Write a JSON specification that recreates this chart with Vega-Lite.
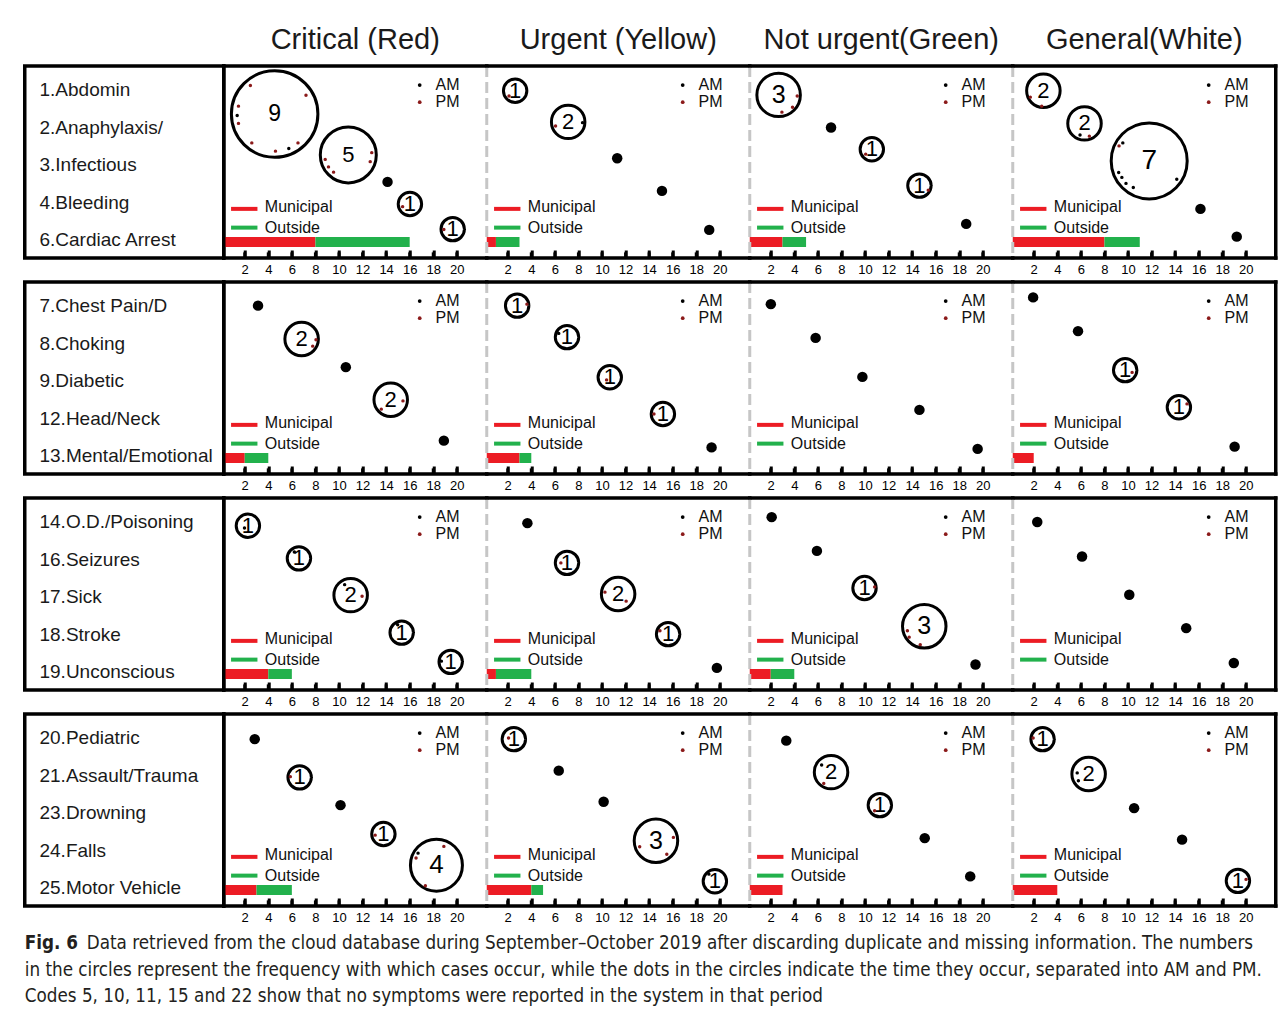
{
"$schema":"https://vega.github.io/schema/vega-lite/v6.json",
"background":"white",
"padding":{"left":22.75,"top":2,"right":0,"bottom":0},
"config":{"view":{"stroke":null},"font":"Liberation Sans","axisY":{"disable":true},
"axisX":{"domain":false,"grid":false,"ticks":true,"tickSize":-8,"tickWidth":3,"tickColor":"black","tickOpacity":1,"tickCount":20,"labelFontSize":13,"labelFont":"Liberation Sans","labelColor":"black","labelPadding":13,"labelFlush":false,"labelOverlap":false,"labelSeparation":-40,"labelBound":false,"titleOpacity":0,"titleFontSize":1,"titlePadding":0}},
"datasets":{
"hdr":[{"h":"Critical (Red)"},{"h":"Urgent (Yellow)"},{"h":"Not urgent(Green)"},{"h":"General(White)"}],
"lab":[{"g":1,"i":1,"s":"1.Abdomin"},{"g":1,"i":2,"s":"2.Anaphylaxis/"},{"g":1,"i":3,"s":"3.Infectious"},{"g":1,"i":4,"s":"4.Bleeding"},{"g":1,"i":5,"s":"6.Cardiac Arrest"},
{"g":2,"i":1,"s":"7.Chest Pain/D"},{"g":2,"i":2,"s":"8.Choking"},{"g":2,"i":3,"s":"9.Diabetic"},{"g":2,"i":4,"s":"12.Head/Neck"},{"g":2,"i":5,"s":"13.Mental/Emotional"},
{"g":3,"i":1,"s":"14.O.D./Poisoning"},{"g":3,"i":2,"s":"16.Seizures"},{"g":3,"i":3,"s":"17.Sick"},{"g":3,"i":4,"s":"18.Stroke"},{"g":3,"i":5,"s":"19.Unconscious"},
{"g":4,"i":1,"s":"20.Pediatric"},{"g":4,"i":2,"s":"21.Assault/Trauma"},{"g":4,"i":3,"s":"23.Drowning"},{"g":4,"i":4,"s":"24.Falls"},{"g":4,"i":5,"s":"25.Motor Vehicle"}],
"cap":[{"ln":1,"s":"Data retrieved from the cloud database during September–October 2019 after discarding duplicate and missing information. The numbers"},
{"ln":2,"s":"in the circles represent the frequency with which cases occur, while the dots in the circles indicate the time they occur, separated into AM and PM."},
{"ln":3,"s":"Codes 5, 10, 11, 15 and 22 show that no symptoms were reported in the system in that period"}],
"d":[
{"l":"C","t":"k","x":2},{"l":"C","t":"k","x":4},{"l":"C","t":"k","x":6},{"l":"C","t":"k","x":8},{"l":"C","t":"k","x":10},{"l":"C","t":"k","x":12},{"l":"C","t":"k","x":14},{"l":"C","t":"k","x":16},{"l":"C","t":"k","x":18},{"l":"C","t":"k","x":20},
{"l":"U","t":"k","x":2},{"l":"U","t":"k","x":4},{"l":"U","t":"k","x":6},{"l":"U","t":"k","x":8},{"l":"U","t":"k","x":10},{"l":"U","t":"k","x":12},{"l":"U","t":"k","x":14},{"l":"U","t":"k","x":16},{"l":"U","t":"k","x":18},{"l":"U","t":"k","x":20},
{"l":"N","t":"k","x":2},{"l":"N","t":"k","x":4},{"l":"N","t":"k","x":6},{"l":"N","t":"k","x":8},{"l":"N","t":"k","x":10},{"l":"N","t":"k","x":12},{"l":"N","t":"k","x":14},{"l":"N","t":"k","x":16},{"l":"N","t":"k","x":18},{"l":"N","t":"k","x":20},
{"l":"G","t":"k","x":2},{"l":"G","t":"k","x":4},{"l":"G","t":"k","x":6},{"l":"G","t":"k","x":8},{"l":"G","t":"k","x":10},{"l":"G","t":"k","x":12},{"l":"G","t":"k","x":14},{"l":"G","t":"k","x":16},{"l":"G","t":"k","x":18},{"l":"G","t":"k","x":20},
{"g":1,"l":"C","t":"f"},
{"g":1,"l":"C","t":"c","x":4.54,"y":1.64,"n":9},
{"g":1,"l":"C","t":"c","x":10.79,"y":2.73,"n":5},
{"g":1,"l":"C","t":"c","x":16.02,"y":4.04,"n":1},
{"g":1,"l":"C","t":"c","x":19.65,"y":4.71,"n":1},
{"g":1,"l":"C","t":"z","x":14.12,"y":3.45},
{"g":1,"l":"C","t":"d","k":"PM","x":2.48,"y":0.88},
{"g":1,"l":"C","t":"d","k":"PM","x":7.2,"y":1.14},
{"g":1,"l":"C","t":"d","k":"PM","x":1.47,"y":1.43},
{"g":1,"l":"C","t":"d","k":"AM","x":1.36,"y":1.68},
{"g":1,"l":"C","t":"d","k":"PM","x":1.47,"y":1.89},
{"g":1,"l":"C","t":"d","k":"PM","x":2.6,"y":2.41},
{"g":1,"l":"C","t":"d","k":"PM","x":4.61,"y":2.63},
{"g":1,"l":"C","t":"d","k":"AM","x":5.74,"y":2.56},
{"g":1,"l":"C","t":"d","k":"PM","x":6.52,"y":2.41},
{"g":1,"l":"C","t":"d","k":"PM","x":8.83,"y":2.85},
{"g":1,"l":"C","t":"d","k":"PM","x":9.11,"y":3.05},
{"g":1,"l":"C","t":"d","k":"PM","x":9.54,"y":3.19},
{"g":1,"l":"C","t":"d","k":"PM","x":12.78,"y":2.67},
{"g":1,"l":"C","t":"d","k":"PM","x":12.65,"y":2.91},
{"g":1,"l":"C","t":"d","k":"PM","x":15.4,"y":4.11},
{"g":1,"l":"C","t":"d","k":"PM","x":18.9,"y":4.72},
{"g":1,"l":"C","t":"b","k":"Municipal","v":8},
{"g":1,"l":"C","t":"b","k":"Outside","v":8},
{"g":1,"l":"U","t":"f"},
{"g":1,"l":"U","t":"c","x":2.63,"y":1.02,"n":1},
{"g":1,"l":"U","t":"c","x":7.13,"y":1.85,"n":2},
{"g":1,"l":"U","t":"z","x":11.29,"y":2.82},
{"g":1,"l":"U","t":"z","x":15.09,"y":3.69},
{"g":1,"l":"U","t":"z","x":19.1,"y":4.73},
{"g":1,"l":"U","t":"d","k":"PM","x":2.11,"y":1.16},
{"g":1,"l":"U","t":"d","k":"PM","x":6.06,"y":1.96},
{"g":1,"l":"U","t":"d","k":"AM","x":8.35,"y":1.87},
{"g":1,"l":"U","t":"b","k":"Municipal","v":1},
{"g":1,"l":"U","t":"b","k":"Outside","v":2},
{"g":1,"l":"N","t":"f"},
{"g":1,"l":"N","t":"c","x":2.67,"y":1.13,"n":3},
{"g":1,"l":"N","t":"c","x":10.58,"y":2.58,"n":1},
{"g":1,"l":"N","t":"c","x":14.62,"y":3.55,"n":1},
{"g":1,"l":"N","t":"z","x":7.12,"y":2.0},
{"g":1,"l":"N","t":"z","x":18.59,"y":4.57},
{"g":1,"l":"N","t":"d","k":"PM","x":4.25,"y":1.16},
{"g":1,"l":"N","t":"d","k":"PM","x":3.85,"y":1.46},
{"g":1,"l":"N","t":"d","k":"PM","x":2.95,"y":1.59},
{"g":1,"l":"N","t":"d","k":"PM","x":10.06,"y":2.71},
{"g":1,"l":"N","t":"d","k":"PM","x":15.37,"y":3.67},
{"g":1,"l":"N","t":"b","k":"Municipal","v":3},
{"g":1,"l":"N","t":"b","k":"Outside","v":2},
{"g":1,"l":"G","t":"f"},
{"g":1,"l":"G","t":"c","x":2.82,"y":1.02,"n":2},
{"g":1,"l":"G","t":"c","x":6.31,"y":1.89,"n":2},
{"g":1,"l":"G","t":"c","x":11.8,"y":2.89,"n":7},
{"g":1,"l":"G","t":"z","x":16.15,"y":4.17},
{"g":1,"l":"G","t":"z","x":19.23,"y":4.91},
{"g":1,"l":"G","t":"d","k":"PM","x":1.71,"y":1.19},
{"g":1,"l":"G","t":"d","k":"PM","x":2.68,"y":1.43},
{"g":1,"l":"G","t":"d","k":"AM","x":5.93,"y":2.2},
{"g":1,"l":"G","t":"d","k":"PM","x":6.72,"y":2.23},
{"g":1,"l":"G","t":"d","k":"PM","x":9.24,"y":2.49},
{"g":1,"l":"G","t":"d","k":"AM","x":9.56,"y":2.41},
{"g":1,"l":"G","t":"d","k":"AM","x":9.21,"y":3.2},
{"g":1,"l":"G","t":"d","k":"AM","x":9.48,"y":3.33},
{"g":1,"l":"G","t":"d","k":"AM","x":9.83,"y":3.49},
{"g":1,"l":"G","t":"d","k":"AM","x":10.45,"y":3.6},
{"g":1,"l":"G","t":"d","k":"AM","x":14.14,"y":3.38},
{"g":1,"l":"G","t":"b","k":"Municipal","v":8},
{"g":1,"l":"G","t":"b","k":"Outside","v":3},
{"g":2,"l":"C","t":"f"},
{"g":2,"l":"C","t":"z","x":3.13,"y":0.99},
{"g":2,"l":"C","t":"z","x":10.58,"y":2.63},
{"g":2,"l":"C","t":"z","x":18.9,"y":4.59},
{"g":2,"l":"C","t":"c","x":6.83,"y":1.88,"n":2},
{"g":2,"l":"C","t":"c","x":14.39,"y":3.5,"n":2},
{"g":2,"l":"C","t":"d","k":"PM","x":8.05,"y":1.9},
{"g":2,"l":"C","t":"d","k":"PM","x":7.77,"y":2.07},
{"g":2,"l":"C","t":"d","k":"PM","x":13.59,"y":3.75},
{"g":2,"l":"C","t":"d","k":"PM","x":15.43,"y":3.53},
{"g":2,"l":"C","t":"b","k":"Municipal","v":2},
{"g":2,"l":"C","t":"b","k":"Outside","v":2},
{"g":2,"l":"U","t":"f"},
{"g":2,"l":"U","t":"c","x":2.8,"y":0.99,"n":1},
{"g":2,"l":"U","t":"c","x":7.03,"y":1.83,"n":1},
{"g":2,"l":"U","t":"c","x":10.66,"y":2.9,"n":1},
{"g":2,"l":"U","t":"c","x":15.17,"y":3.88,"n":1},
{"g":2,"l":"U","t":"z","x":19.3,"y":4.77},
{"g":2,"l":"U","t":"d","k":"PM","x":3.63,"y":0.95},
{"g":2,"l":"U","t":"d","k":"AM","x":6.33,"y":1.73},
{"g":2,"l":"U","t":"d","k":"PM","x":10.39,"y":2.97},
{"g":2,"l":"U","t":"d","k":"PM","x":14.41,"y":3.88},
{"g":2,"l":"U","t":"b","k":"Municipal","v":3},
{"g":2,"l":"U","t":"b","k":"Outside","v":1},
{"g":2,"l":"N","t":"f"},
{"g":2,"l":"N","t":"z","x":2.01,"y":0.95},
{"g":2,"l":"N","t":"z","x":5.81,"y":1.85},
{"g":2,"l":"N","t":"z","x":9.78,"y":2.89},
{"g":2,"l":"N","t":"z","x":14.62,"y":3.77},
{"g":2,"l":"N","t":"z","x":19.56,"y":4.81},
{"g":2,"l":"G","t":"f"},
{"g":2,"l":"G","t":"z","x":1.95,"y":0.77},
{"g":2,"l":"G","t":"z","x":5.76,"y":1.67},
{"g":2,"l":"G","t":"z","x":19.05,"y":4.75},
{"g":2,"l":"G","t":"c","x":9.76,"y":2.71,"n":1},
{"g":2,"l":"G","t":"c","x":14.32,"y":3.7,"n":1},
{"g":2,"l":"G","t":"d","k":"PM","x":10.35,"y":2.77},
{"g":2,"l":"G","t":"d","k":"PM","x":15.01,"y":3.61},
{"g":2,"l":"G","t":"b","k":"Municipal","v":2},
{"g":3,"l":"C","t":"f"},
{"g":3,"l":"C","t":"c","x":2.27,"y":1.1,"n":1},
{"g":3,"l":"C","t":"c","x":6.6,"y":1.97,"n":1},
{"g":3,"l":"C","t":"c","x":10.99,"y":2.95,"n":2},
{"g":3,"l":"C","t":"c","x":15.32,"y":3.95,"n":1},
{"g":3,"l":"C","t":"c","x":19.48,"y":4.73,"n":1},
{"g":3,"l":"C","t":"d","k":"AM","x":1.98,"y":1.16},
{"g":3,"l":"C","t":"d","k":"AM","x":6.21,"y":1.8},
{"g":3,"l":"C","t":"d","k":"AM","x":10.48,"y":2.67},
{"g":3,"l":"C","t":"d","k":"PM","x":11.96,"y":2.98},
{"g":3,"l":"C","t":"d","k":"AM","x":14.98,"y":3.74},
{"g":3,"l":"C","t":"d","k":"AM","x":18.69,"y":4.71},
{"g":3,"l":"C","t":"b","k":"Municipal","v":4},
{"g":3,"l":"C","t":"b","k":"Outside","v":2},
{"g":3,"l":"U","t":"f"},
{"g":3,"l":"U","t":"z","x":3.67,"y":1.03},
{"g":3,"l":"U","t":"z","x":19.75,"y":4.89},
{"g":3,"l":"U","t":"c","x":7.03,"y":2.09,"n":1},
{"g":3,"l":"U","t":"c","x":11.37,"y":2.92,"n":2},
{"g":3,"l":"U","t":"c","x":15.61,"y":3.99,"n":1},
{"g":3,"l":"U","t":"d","k":"PM","x":6.51,"y":2.09},
{"g":3,"l":"U","t":"d","k":"PM","x":10.25,"y":2.87},
{"g":3,"l":"U","t":"d","k":"PM","x":12.05,"y":3.11},
{"g":3,"l":"U","t":"d","k":"PM","x":14.92,"y":3.9},
{"g":3,"l":"U","t":"b","k":"Municipal","v":1},
{"g":3,"l":"U","t":"b","k":"Outside","v":3},
{"g":3,"l":"N","t":"f"},
{"g":3,"l":"N","t":"z","x":2.08,"y":0.87},
{"g":3,"l":"N","t":"z","x":5.92,"y":1.77},
{"g":3,"l":"N","t":"z","x":19.38,"y":4.8},
{"g":3,"l":"N","t":"c","x":9.96,"y":2.76,"n":1},
{"g":3,"l":"N","t":"c","x":15.03,"y":3.78,"n":3},
{"g":3,"l":"N","t":"d","k":"PM","x":10.82,"y":2.73},
{"g":3,"l":"N","t":"d","k":"PM","x":13.75,"y":4.07},
{"g":3,"l":"N","t":"d","k":"PM","x":14.69,"y":4.27},
{"g":3,"l":"N","t":"d","k":"PM","x":13.6,"y":3.9},
{"g":3,"l":"N","t":"b","k":"Municipal","v":2},
{"g":3,"l":"N","t":"b","k":"Outside","v":2},
{"g":3,"l":"G","t":"f"},
{"g":3,"l":"G","t":"z","x":2.3,"y":1.0},
{"g":3,"l":"G","t":"z","x":6.1,"y":1.92},
{"g":3,"l":"G","t":"z","x":10.11,"y":2.94},
{"g":3,"l":"G","t":"z","x":14.94,"y":3.83},
{"g":3,"l":"G","t":"z","x":18.98,"y":4.76},
{"g":4,"l":"C","t":"f"},
{"g":4,"l":"C","t":"z","x":2.85,"y":1.03},
{"g":4,"l":"C","t":"z","x":10.13,"y":2.79},
{"g":4,"l":"C","t":"c","x":6.66,"y":2.05,"n":1},
{"g":4,"l":"C","t":"c","x":13.77,"y":3.56,"n":1},
{"g":4,"l":"C","t":"c","x":18.27,"y":4.39,"n":4},
{"g":4,"l":"C","t":"d","k":"PM","x":5.87,"y":2.03},
{"g":4,"l":"C","t":"d","k":"PM","x":13.07,"y":3.59},
{"g":4,"l":"C","t":"d","k":"AM","x":16.71,"y":4.07},
{"g":4,"l":"C","t":"d","k":"PM","x":16.54,"y":4.2},
{"g":4,"l":"C","t":"d","k":"PM","x":18.9,"y":3.89},
{"g":4,"l":"C","t":"d","k":"PM","x":17.33,"y":4.94},
{"g":4,"l":"C","t":"b","k":"Municipal","v":3},
{"g":4,"l":"C","t":"b","k":"Outside","v":3},
{"g":4,"l":"U","t":"f"},
{"g":4,"l":"U","t":"c","x":2.52,"y":1.03,"n":1},
{"g":4,"l":"U","t":"c","x":14.58,"y":3.74,"n":3},
{"g":4,"l":"U","t":"c","x":19.58,"y":4.82,"n":1},
{"g":4,"l":"U","t":"z","x":6.33,"y":1.87},
{"g":4,"l":"U","t":"z","x":10.14,"y":2.7},
{"g":4,"l":"U","t":"d","k":"PM","x":2.07,"y":1.0},
{"g":4,"l":"U","t":"d","k":"PM","x":13.2,"y":3.9},
{"g":4,"l":"U","t":"d","k":"PM","x":16.06,"y":3.65},
{"g":4,"l":"U","t":"d","k":"PM","x":15.5,"y":4.1},
{"g":4,"l":"U","t":"d","k":"AM","x":19.07,"y":4.63},
{"g":4,"l":"U","t":"b","k":"Municipal","v":4},
{"g":4,"l":"U","t":"b","k":"Outside","v":1},
{"g":4,"l":"N","t":"f"},
{"g":4,"l":"N","t":"z","x":3.32,"y":1.07},
{"g":4,"l":"N","t":"z","x":15.07,"y":3.67},
{"g":4,"l":"N","t":"z","x":18.93,"y":4.69},
{"g":4,"l":"N","t":"c","x":7.12,"y":1.91,"n":2},
{"g":4,"l":"N","t":"c","x":11.26,"y":2.79,"n":1},
{"g":4,"l":"N","t":"d","k":"AM","x":6.32,"y":1.72},
{"g":4,"l":"N","t":"d","k":"PM","x":6.5,"y":2.21},
{"g":4,"l":"N","t":"d","k":"PM","x":10.82,"y":2.94},
{"g":4,"l":"N","t":"b","k":"Municipal","v":3},
{"g":4,"l":"G","t":"f"},
{"g":4,"l":"G","t":"c","x":2.75,"y":1.03,"n":1},
{"g":4,"l":"G","t":"c","x":6.66,"y":1.96,"n":2},
{"g":4,"l":"G","t":"c","x":19.33,"y":4.81,"n":1},
{"g":4,"l":"G","t":"z","x":10.52,"y":2.87},
{"g":4,"l":"G","t":"z","x":14.59,"y":3.71},
{"g":4,"l":"G","t":"d","k":"PM","x":1.95,"y":1.0},
{"g":4,"l":"G","t":"d","k":"AM","x":5.69,"y":1.93},
{"g":4,"l":"G","t":"d","k":"AM","x":5.79,"y":2.14},
{"g":4,"l":"G","t":"d","k":"PM","x":20.02,"y":4.77},
{"g":4,"l":"G","t":"b","k":"Municipal","v":4}
]},
"columns":2,
"spacing":{"row":24,"column":0},
"bounds":"flush",
"align":"each",
"concat":[
{"width":199,"height":40,"data":{"values":[]},"mark":"point"},
{"width":1052,"height":40,"data":{"name":"hdr"},"mark":{"type":"text","fontSize":29,"font":"Liberation Sans","color":"#1a1a1a","dy":18},"encoding":{"x":{"field":"h","type":"nominal","sort":null,"axis":null},"text":{"field":"h"}}},
{"width":199,"height":192,"view":{"stroke":"black","strokeWidth":3.5},"data":{"name":"lab"},"transform":[{"filter":"datum.g==1"}],"mark":{"type":"text","align":"left","baseline":"middle","fontSize":19,"font":"Liberation Sans","color":"#1a1a1a"},"encoding":{"x":{"datum":0,"type":"quantitative","scale":{"domain":[-0.08,1],"nice":false,"zero":false},"axis":null},"y":{"field":"i","type":"quantitative","scale":{"domain":[0.36,5.48],"reverse":true,"nice":false,"zero":false},"axis":null},"text":{"field":"s"}}},
{"data":{"name":"d"},"transform":[{"filter":"datum.g==1 || datum.t=='k'"}],"facet":{"column":{"field":"l","type":"nominal","sort":["C","U","N","G"],"title":null,"header":{"labels":false,"title":null}}},"spacing":0,"bounds":"flush",
"spec":{"width":263,"height":192,"resolve":{"scale":{"size":"independent"}},"layer":[
{"transform":[{"filter":"datum.t=='b'"},{"stack":"v","groupby":["l"],"sort":[{"field":"k","order":"ascending"}],"as":["v0","v1"]}],"mark":{"type":"bar","size":10,"clip":true},"encoding":{"x":{"field":"v0","type":"quantitative","scale":{"domain":[0.22,22.54],"nice":false,"zero":false,"padding":0},"axis":{"values":[2,4,6,8,10,12,14,16,18,20],"tickCount":20,"labelOverlap":false,"labelSeparation":-40,"labelFontSize":13,"labelPadding":13,"tickSize":-8,"tickWidth":3,"ticks":true,"title":null}},"x2":{"field":"v1"},"y":{"datum":5.053,"type":"quantitative","scale":{"domain":[0.36,5.48],"reverse":true,"nice":false,"zero":false,"padding":0}},"color":{"field":"k","type":"nominal","scale":{"domain":["Municipal","Outside","AM","PM"],"range":["#ec1c24","#22b14c","#000000","#8b1a1a"]},"legend":null}}},
{"transform":[{"filter":"datum.t=='f' && datum.l!='C'"}],"mark":{"type":"rule","color":"#c6c6c6","strokeWidth":3,"strokeDash":[11,5]},"encoding":{"x":{"datum":0.22}}},
{"transform":[{"filter":"datum.t=='k'"}],"mark":{"type":"rule","color":"#000000","strokeWidth":3},"encoding":{"x":{"field":"x","type":"quantitative","title":null},"y":{"datum":5.48},"y2":{"datum":5.33}}},
{"transform":[{"filter":"datum.t=='f'"}],"mark":{"type":"point","shape":"circle","filled":true,"size":14,"opacity":1,"color":"#000000"},"encoding":{"x":{"datum":16.85},"y":{"datum":0.867}}},
{"transform":[{"filter":"datum.t=='f'"}],"mark":{"type":"point","shape":"circle","filled":true,"size":14,"opacity":1,"color":"#8b1a1a"},"encoding":{"x":{"datum":16.85},"y":{"datum":1.325}}},
{"transform":[{"filter":"datum.t=='f'"}],"mark":{"type":"text","align":"left","baseline":"middle","fontSize":16,"color":"#111111"},"encoding":{"x":{"datum":18.2},"y":{"datum":0.867},"text":{"value":"AM"}}},
{"transform":[{"filter":"datum.t=='f'"}],"mark":{"type":"text","align":"left","baseline":"middle","fontSize":16,"color":"#111111"},"encoding":{"x":{"datum":18.2},"y":{"datum":1.325},"text":{"value":"PM"}}},
{"transform":[{"filter":"datum.t=='f'"}],"mark":{"type":"rule","color":"#ec1c24","strokeWidth":4},"encoding":{"x":{"datum":0.84},"x2":{"datum":3.08},"y":{"datum":4.17}}},
{"transform":[{"filter":"datum.t=='f'"}],"mark":{"type":"rule","color":"#22b14c","strokeWidth":4},"encoding":{"x":{"datum":0.84},"x2":{"datum":3.08},"y":{"datum":4.67}}},
{"transform":[{"filter":"datum.t=='f'"}],"mark":{"type":"text","align":"left","baseline":"middle","fontSize":16,"color":"#111111"},"encoding":{"x":{"datum":3.71},"y":{"datum":4.13},"text":{"value":"Municipal"}}},
{"transform":[{"filter":"datum.t=='f'"}],"mark":{"type":"text","align":"left","baseline":"middle","fontSize":16,"color":"#111111"},"encoding":{"x":{"datum":3.71},"y":{"datum":4.68},"text":{"value":"Outside"}}},
{"transform":[{"filter":"datum.t=='c'"}],"mark":{"type":"point","shape":"circle","filled":false,"color":"#000000","strokeWidth":3,"opacity":1},"encoding":{"x":{"field":"x","type":"quantitative","title":null},"y":{"field":"y","type":"quantitative"},"size":{"field":"n","type":"quantitative","scale":{"domain":[1,2,3,4,5,7,9],"range":[548,1122,1892,2704,3136,5776,7482],"zero":false,"nice":false},"legend":null}}},
{"transform":[{"filter":"datum.t=='c'"}],"mark":{"type":"text","align":"center","baseline":"middle","color":"#000000"},"encoding":{"x":{"field":"x","type":"quantitative","title":null},"y":{"field":"y","type":"quantitative"},"text":{"field":"n","type":"quantitative","format":"d"},"size":{"field":"n","type":"quantitative","scale":{"domain":[1,2,3,4,5,7,9],"range":[22,22,25,26,22,28,23],"zero":false,"nice":false},"legend":null}}},
{"transform":[{"filter":"datum.t=='z'"}],"mark":{"type":"point","shape":"circle","filled":true,"size":110,"opacity":1,"color":"#000000"},"encoding":{"x":{"field":"x","type":"quantitative","title":null},"y":{"field":"y","type":"quantitative"}}},
{"transform":[{"filter":"datum.t=='d'"}],"mark":{"type":"point","shape":"circle","filled":true,"size":12,"opacity":1},"encoding":{"x":{"field":"x","type":"quantitative","title":null},"y":{"field":"y","type":"quantitative"},"color":{"field":"k","type":"nominal","scale":{"domain":["Municipal","Outside","AM","PM"],"range":["#ec1c24","#22b14c","#000000","#8b1a1a"]},"legend":null}}},
{"transform":[{"filter":"datum.t=='f'"}],"mark":{"type":"rule","color":"#000000","strokeWidth":3.5,"strokeCap":"square"},"encoding":{"y":{"datum":0.36}}},
{"transform":[{"filter":"datum.t=='f'"}],"mark":{"type":"rule","color":"#000000","strokeWidth":3.5,"strokeCap":"square"},"encoding":{"y":{"datum":5.48}}},
{"transform":[{"filter":"datum.t=='f' && datum.l=='G'"}],"mark":{"type":"rule","color":"#000000","strokeWidth":3.5,"strokeCap":"square"},"encoding":{"x":{"datum":22.54}}},
{"transform":[{"filter":"datum.t=='f' && datum.l=='C'"}],"mark":{"type":"rule","color":"#000000","strokeWidth":3.5,"strokeCap":"square"},"encoding":{"x":{"datum":0.22}}}
]}},
{"width":199,"height":192,"view":{"stroke":"black","strokeWidth":3.5},"data":{"name":"lab"},"transform":[{"filter":"datum.g==2"}],"mark":{"type":"text","align":"left","baseline":"middle","fontSize":19,"font":"Liberation Sans","color":"#1a1a1a"},"encoding":{"x":{"datum":0,"type":"quantitative","scale":{"domain":[-0.08,1],"nice":false,"zero":false},"axis":null},"y":{"field":"i","type":"quantitative","scale":{"domain":[0.36,5.48],"reverse":true,"nice":false,"zero":false},"axis":null},"text":{"field":"s"}}},
{"data":{"name":"d"},"transform":[{"filter":"datum.g==2 || datum.t=='k'"}],"facet":{"column":{"field":"l","type":"nominal","sort":["C","U","N","G"],"title":null,"header":{"labels":false,"title":null}}},"spacing":0,"bounds":"flush",
"spec":{"width":263,"height":192,"resolve":{"scale":{"size":"independent"}},"layer":[
{"transform":[{"filter":"datum.t=='b'"},{"stack":"v","groupby":["l"],"sort":[{"field":"k","order":"ascending"}],"as":["v0","v1"]}],"mark":{"type":"bar","size":10,"clip":true},"encoding":{"x":{"field":"v0","type":"quantitative","scale":{"domain":[0.22,22.54],"nice":false,"zero":false,"padding":0},"axis":{"values":[2,4,6,8,10,12,14,16,18,20],"tickCount":20,"labelOverlap":false,"labelSeparation":-40,"labelFontSize":13,"labelPadding":13,"tickSize":-8,"tickWidth":3,"ticks":true,"title":null}},"x2":{"field":"v1"},"y":{"datum":5.053,"type":"quantitative","scale":{"domain":[0.36,5.48],"reverse":true,"nice":false,"zero":false,"padding":0}},"color":{"field":"k","type":"nominal","scale":{"domain":["Municipal","Outside","AM","PM"],"range":["#ec1c24","#22b14c","#000000","#8b1a1a"]},"legend":null}}},
{"transform":[{"filter":"datum.t=='f' && datum.l!='C'"}],"mark":{"type":"rule","color":"#c6c6c6","strokeWidth":3,"strokeDash":[11,5]},"encoding":{"x":{"datum":0.22}}},
{"transform":[{"filter":"datum.t=='k'"}],"mark":{"type":"rule","color":"#000000","strokeWidth":3},"encoding":{"x":{"field":"x","type":"quantitative","title":null},"y":{"datum":5.48},"y2":{"datum":5.33}}},
{"transform":[{"filter":"datum.t=='f'"}],"mark":{"type":"point","shape":"circle","filled":true,"size":14,"opacity":1,"color":"#000000"},"encoding":{"x":{"datum":16.85},"y":{"datum":0.867}}},
{"transform":[{"filter":"datum.t=='f'"}],"mark":{"type":"point","shape":"circle","filled":true,"size":14,"opacity":1,"color":"#8b1a1a"},"encoding":{"x":{"datum":16.85},"y":{"datum":1.325}}},
{"transform":[{"filter":"datum.t=='f'"}],"mark":{"type":"text","align":"left","baseline":"middle","fontSize":16,"color":"#111111"},"encoding":{"x":{"datum":18.2},"y":{"datum":0.867},"text":{"value":"AM"}}},
{"transform":[{"filter":"datum.t=='f'"}],"mark":{"type":"text","align":"left","baseline":"middle","fontSize":16,"color":"#111111"},"encoding":{"x":{"datum":18.2},"y":{"datum":1.325},"text":{"value":"PM"}}},
{"transform":[{"filter":"datum.t=='f'"}],"mark":{"type":"rule","color":"#ec1c24","strokeWidth":4},"encoding":{"x":{"datum":0.84},"x2":{"datum":3.08},"y":{"datum":4.17}}},
{"transform":[{"filter":"datum.t=='f'"}],"mark":{"type":"rule","color":"#22b14c","strokeWidth":4},"encoding":{"x":{"datum":0.84},"x2":{"datum":3.08},"y":{"datum":4.67}}},
{"transform":[{"filter":"datum.t=='f'"}],"mark":{"type":"text","align":"left","baseline":"middle","fontSize":16,"color":"#111111"},"encoding":{"x":{"datum":3.71},"y":{"datum":4.13},"text":{"value":"Municipal"}}},
{"transform":[{"filter":"datum.t=='f'"}],"mark":{"type":"text","align":"left","baseline":"middle","fontSize":16,"color":"#111111"},"encoding":{"x":{"datum":3.71},"y":{"datum":4.68},"text":{"value":"Outside"}}},
{"transform":[{"filter":"datum.t=='c'"}],"mark":{"type":"point","shape":"circle","filled":false,"color":"#000000","strokeWidth":3,"opacity":1},"encoding":{"x":{"field":"x","type":"quantitative","title":null},"y":{"field":"y","type":"quantitative"},"size":{"field":"n","type":"quantitative","scale":{"domain":[1,2,3,4,5,7,9],"range":[548,1122,1892,2704,3136,5776,7482],"zero":false,"nice":false},"legend":null}}},
{"transform":[{"filter":"datum.t=='c'"}],"mark":{"type":"text","align":"center","baseline":"middle","color":"#000000"},"encoding":{"x":{"field":"x","type":"quantitative","title":null},"y":{"field":"y","type":"quantitative"},"text":{"field":"n","type":"quantitative","format":"d"},"size":{"field":"n","type":"quantitative","scale":{"domain":[1,2,3,4,5,7,9],"range":[22,22,25,26,22,28,23],"zero":false,"nice":false},"legend":null}}},
{"transform":[{"filter":"datum.t=='z'"}],"mark":{"type":"point","shape":"circle","filled":true,"size":110,"opacity":1,"color":"#000000"},"encoding":{"x":{"field":"x","type":"quantitative","title":null},"y":{"field":"y","type":"quantitative"}}},
{"transform":[{"filter":"datum.t=='d'"}],"mark":{"type":"point","shape":"circle","filled":true,"size":12,"opacity":1},"encoding":{"x":{"field":"x","type":"quantitative","title":null},"y":{"field":"y","type":"quantitative"},"color":{"field":"k","type":"nominal","scale":{"domain":["Municipal","Outside","AM","PM"],"range":["#ec1c24","#22b14c","#000000","#8b1a1a"]},"legend":null}}},
{"transform":[{"filter":"datum.t=='f'"}],"mark":{"type":"rule","color":"#000000","strokeWidth":3.5,"strokeCap":"square"},"encoding":{"y":{"datum":0.36}}},
{"transform":[{"filter":"datum.t=='f'"}],"mark":{"type":"rule","color":"#000000","strokeWidth":3.5,"strokeCap":"square"},"encoding":{"y":{"datum":5.48}}},
{"transform":[{"filter":"datum.t=='f' && datum.l=='G'"}],"mark":{"type":"rule","color":"#000000","strokeWidth":3.5,"strokeCap":"square"},"encoding":{"x":{"datum":22.54}}},
{"transform":[{"filter":"datum.t=='f' && datum.l=='C'"}],"mark":{"type":"rule","color":"#000000","strokeWidth":3.5,"strokeCap":"square"},"encoding":{"x":{"datum":0.22}}}
]}},
{"width":199,"height":192,"view":{"stroke":"black","strokeWidth":3.5},"data":{"name":"lab"},"transform":[{"filter":"datum.g==3"}],"mark":{"type":"text","align":"left","baseline":"middle","fontSize":19,"font":"Liberation Sans","color":"#1a1a1a"},"encoding":{"x":{"datum":0,"type":"quantitative","scale":{"domain":[-0.08,1],"nice":false,"zero":false},"axis":null},"y":{"field":"i","type":"quantitative","scale":{"domain":[0.36,5.48],"reverse":true,"nice":false,"zero":false},"axis":null},"text":{"field":"s"}}},
{"data":{"name":"d"},"transform":[{"filter":"datum.g==3 || datum.t=='k'"}],"facet":{"column":{"field":"l","type":"nominal","sort":["C","U","N","G"],"title":null,"header":{"labels":false,"title":null}}},"spacing":0,"bounds":"flush",
"spec":{"width":263,"height":192,"resolve":{"scale":{"size":"independent"}},"layer":[
{"transform":[{"filter":"datum.t=='b'"},{"stack":"v","groupby":["l"],"sort":[{"field":"k","order":"ascending"}],"as":["v0","v1"]}],"mark":{"type":"bar","size":10,"clip":true},"encoding":{"x":{"field":"v0","type":"quantitative","scale":{"domain":[0.22,22.54],"nice":false,"zero":false,"padding":0},"axis":{"values":[2,4,6,8,10,12,14,16,18,20],"tickCount":20,"labelOverlap":false,"labelSeparation":-40,"labelFontSize":13,"labelPadding":13,"tickSize":-8,"tickWidth":3,"ticks":true,"title":null}},"x2":{"field":"v1"},"y":{"datum":5.053,"type":"quantitative","scale":{"domain":[0.36,5.48],"reverse":true,"nice":false,"zero":false,"padding":0}},"color":{"field":"k","type":"nominal","scale":{"domain":["Municipal","Outside","AM","PM"],"range":["#ec1c24","#22b14c","#000000","#8b1a1a"]},"legend":null}}},
{"transform":[{"filter":"datum.t=='f' && datum.l!='C'"}],"mark":{"type":"rule","color":"#c6c6c6","strokeWidth":3,"strokeDash":[11,5]},"encoding":{"x":{"datum":0.22}}},
{"transform":[{"filter":"datum.t=='k'"}],"mark":{"type":"rule","color":"#000000","strokeWidth":3},"encoding":{"x":{"field":"x","type":"quantitative","title":null},"y":{"datum":5.48},"y2":{"datum":5.33}}},
{"transform":[{"filter":"datum.t=='f'"}],"mark":{"type":"point","shape":"circle","filled":true,"size":14,"opacity":1,"color":"#000000"},"encoding":{"x":{"datum":16.85},"y":{"datum":0.867}}},
{"transform":[{"filter":"datum.t=='f'"}],"mark":{"type":"point","shape":"circle","filled":true,"size":14,"opacity":1,"color":"#8b1a1a"},"encoding":{"x":{"datum":16.85},"y":{"datum":1.325}}},
{"transform":[{"filter":"datum.t=='f'"}],"mark":{"type":"text","align":"left","baseline":"middle","fontSize":16,"color":"#111111"},"encoding":{"x":{"datum":18.2},"y":{"datum":0.867},"text":{"value":"AM"}}},
{"transform":[{"filter":"datum.t=='f'"}],"mark":{"type":"text","align":"left","baseline":"middle","fontSize":16,"color":"#111111"},"encoding":{"x":{"datum":18.2},"y":{"datum":1.325},"text":{"value":"PM"}}},
{"transform":[{"filter":"datum.t=='f'"}],"mark":{"type":"rule","color":"#ec1c24","strokeWidth":4},"encoding":{"x":{"datum":0.84},"x2":{"datum":3.08},"y":{"datum":4.17}}},
{"transform":[{"filter":"datum.t=='f'"}],"mark":{"type":"rule","color":"#22b14c","strokeWidth":4},"encoding":{"x":{"datum":0.84},"x2":{"datum":3.08},"y":{"datum":4.67}}},
{"transform":[{"filter":"datum.t=='f'"}],"mark":{"type":"text","align":"left","baseline":"middle","fontSize":16,"color":"#111111"},"encoding":{"x":{"datum":3.71},"y":{"datum":4.13},"text":{"value":"Municipal"}}},
{"transform":[{"filter":"datum.t=='f'"}],"mark":{"type":"text","align":"left","baseline":"middle","fontSize":16,"color":"#111111"},"encoding":{"x":{"datum":3.71},"y":{"datum":4.68},"text":{"value":"Outside"}}},
{"transform":[{"filter":"datum.t=='c'"}],"mark":{"type":"point","shape":"circle","filled":false,"color":"#000000","strokeWidth":3,"opacity":1},"encoding":{"x":{"field":"x","type":"quantitative","title":null},"y":{"field":"y","type":"quantitative"},"size":{"field":"n","type":"quantitative","scale":{"domain":[1,2,3,4,5,7,9],"range":[548,1122,1892,2704,3136,5776,7482],"zero":false,"nice":false},"legend":null}}},
{"transform":[{"filter":"datum.t=='c'"}],"mark":{"type":"text","align":"center","baseline":"middle","color":"#000000"},"encoding":{"x":{"field":"x","type":"quantitative","title":null},"y":{"field":"y","type":"quantitative"},"text":{"field":"n","type":"quantitative","format":"d"},"size":{"field":"n","type":"quantitative","scale":{"domain":[1,2,3,4,5,7,9],"range":[22,22,25,26,22,28,23],"zero":false,"nice":false},"legend":null}}},
{"transform":[{"filter":"datum.t=='z'"}],"mark":{"type":"point","shape":"circle","filled":true,"size":110,"opacity":1,"color":"#000000"},"encoding":{"x":{"field":"x","type":"quantitative","title":null},"y":{"field":"y","type":"quantitative"}}},
{"transform":[{"filter":"datum.t=='d'"}],"mark":{"type":"point","shape":"circle","filled":true,"size":12,"opacity":1},"encoding":{"x":{"field":"x","type":"quantitative","title":null},"y":{"field":"y","type":"quantitative"},"color":{"field":"k","type":"nominal","scale":{"domain":["Municipal","Outside","AM","PM"],"range":["#ec1c24","#22b14c","#000000","#8b1a1a"]},"legend":null}}},
{"transform":[{"filter":"datum.t=='f'"}],"mark":{"type":"rule","color":"#000000","strokeWidth":3.5,"strokeCap":"square"},"encoding":{"y":{"datum":0.36}}},
{"transform":[{"filter":"datum.t=='f'"}],"mark":{"type":"rule","color":"#000000","strokeWidth":3.5,"strokeCap":"square"},"encoding":{"y":{"datum":5.48}}},
{"transform":[{"filter":"datum.t=='f' && datum.l=='G'"}],"mark":{"type":"rule","color":"#000000","strokeWidth":3.5,"strokeCap":"square"},"encoding":{"x":{"datum":22.54}}},
{"transform":[{"filter":"datum.t=='f' && datum.l=='C'"}],"mark":{"type":"rule","color":"#000000","strokeWidth":3.5,"strokeCap":"square"},"encoding":{"x":{"datum":0.22}}}
]}},
{"width":199,"height":192,"view":{"stroke":"black","strokeWidth":3.5},"data":{"name":"lab"},"transform":[{"filter":"datum.g==4"}],"mark":{"type":"text","align":"left","baseline":"middle","fontSize":19,"font":"Liberation Sans","color":"#1a1a1a"},"encoding":{"x":{"datum":0,"type":"quantitative","scale":{"domain":[-0.08,1],"nice":false,"zero":false},"axis":null},"y":{"field":"i","type":"quantitative","scale":{"domain":[0.36,5.48],"reverse":true,"nice":false,"zero":false},"axis":null},"text":{"field":"s"}}},
{"data":{"name":"d"},"transform":[{"filter":"datum.g==4 || datum.t=='k'"}],"facet":{"column":{"field":"l","type":"nominal","sort":["C","U","N","G"],"title":null,"header":{"labels":false,"title":null}}},"spacing":0,"bounds":"flush",
"spec":{"width":263,"height":192,"resolve":{"scale":{"size":"independent"}},"layer":[
{"transform":[{"filter":"datum.t=='b'"},{"stack":"v","groupby":["l"],"sort":[{"field":"k","order":"ascending"}],"as":["v0","v1"]}],"mark":{"type":"bar","size":10,"clip":true},"encoding":{"x":{"field":"v0","type":"quantitative","scale":{"domain":[0.22,22.54],"nice":false,"zero":false,"padding":0},"axis":{"values":[2,4,6,8,10,12,14,16,18,20],"tickCount":20,"labelOverlap":false,"labelSeparation":-40,"labelFontSize":13,"labelPadding":13,"tickSize":-8,"tickWidth":3,"ticks":true,"title":null}},"x2":{"field":"v1"},"y":{"datum":5.053,"type":"quantitative","scale":{"domain":[0.36,5.48],"reverse":true,"nice":false,"zero":false,"padding":0}},"color":{"field":"k","type":"nominal","scale":{"domain":["Municipal","Outside","AM","PM"],"range":["#ec1c24","#22b14c","#000000","#8b1a1a"]},"legend":null}}},
{"transform":[{"filter":"datum.t=='f' && datum.l!='C'"}],"mark":{"type":"rule","color":"#c6c6c6","strokeWidth":3,"strokeDash":[11,5]},"encoding":{"x":{"datum":0.22}}},
{"transform":[{"filter":"datum.t=='k'"}],"mark":{"type":"rule","color":"#000000","strokeWidth":3},"encoding":{"x":{"field":"x","type":"quantitative","title":null},"y":{"datum":5.48},"y2":{"datum":5.33}}},
{"transform":[{"filter":"datum.t=='f'"}],"mark":{"type":"point","shape":"circle","filled":true,"size":14,"opacity":1,"color":"#000000"},"encoding":{"x":{"datum":16.85},"y":{"datum":0.867}}},
{"transform":[{"filter":"datum.t=='f'"}],"mark":{"type":"point","shape":"circle","filled":true,"size":14,"opacity":1,"color":"#8b1a1a"},"encoding":{"x":{"datum":16.85},"y":{"datum":1.325}}},
{"transform":[{"filter":"datum.t=='f'"}],"mark":{"type":"text","align":"left","baseline":"middle","fontSize":16,"color":"#111111"},"encoding":{"x":{"datum":18.2},"y":{"datum":0.867},"text":{"value":"AM"}}},
{"transform":[{"filter":"datum.t=='f'"}],"mark":{"type":"text","align":"left","baseline":"middle","fontSize":16,"color":"#111111"},"encoding":{"x":{"datum":18.2},"y":{"datum":1.325},"text":{"value":"PM"}}},
{"transform":[{"filter":"datum.t=='f'"}],"mark":{"type":"rule","color":"#ec1c24","strokeWidth":4},"encoding":{"x":{"datum":0.84},"x2":{"datum":3.08},"y":{"datum":4.17}}},
{"transform":[{"filter":"datum.t=='f'"}],"mark":{"type":"rule","color":"#22b14c","strokeWidth":4},"encoding":{"x":{"datum":0.84},"x2":{"datum":3.08},"y":{"datum":4.67}}},
{"transform":[{"filter":"datum.t=='f'"}],"mark":{"type":"text","align":"left","baseline":"middle","fontSize":16,"color":"#111111"},"encoding":{"x":{"datum":3.71},"y":{"datum":4.13},"text":{"value":"Municipal"}}},
{"transform":[{"filter":"datum.t=='f'"}],"mark":{"type":"text","align":"left","baseline":"middle","fontSize":16,"color":"#111111"},"encoding":{"x":{"datum":3.71},"y":{"datum":4.68},"text":{"value":"Outside"}}},
{"transform":[{"filter":"datum.t=='c'"}],"mark":{"type":"point","shape":"circle","filled":false,"color":"#000000","strokeWidth":3,"opacity":1},"encoding":{"x":{"field":"x","type":"quantitative","title":null},"y":{"field":"y","type":"quantitative"},"size":{"field":"n","type":"quantitative","scale":{"domain":[1,2,3,4,5,7,9],"range":[548,1122,1892,2704,3136,5776,7482],"zero":false,"nice":false},"legend":null}}},
{"transform":[{"filter":"datum.t=='c'"}],"mark":{"type":"text","align":"center","baseline":"middle","color":"#000000"},"encoding":{"x":{"field":"x","type":"quantitative","title":null},"y":{"field":"y","type":"quantitative"},"text":{"field":"n","type":"quantitative","format":"d"},"size":{"field":"n","type":"quantitative","scale":{"domain":[1,2,3,4,5,7,9],"range":[22,22,25,26,22,28,23],"zero":false,"nice":false},"legend":null}}},
{"transform":[{"filter":"datum.t=='z'"}],"mark":{"type":"point","shape":"circle","filled":true,"size":110,"opacity":1,"color":"#000000"},"encoding":{"x":{"field":"x","type":"quantitative","title":null},"y":{"field":"y","type":"quantitative"}}},
{"transform":[{"filter":"datum.t=='d'"}],"mark":{"type":"point","shape":"circle","filled":true,"size":12,"opacity":1},"encoding":{"x":{"field":"x","type":"quantitative","title":null},"y":{"field":"y","type":"quantitative"},"color":{"field":"k","type":"nominal","scale":{"domain":["Municipal","Outside","AM","PM"],"range":["#ec1c24","#22b14c","#000000","#8b1a1a"]},"legend":null}}},
{"transform":[{"filter":"datum.t=='f'"}],"mark":{"type":"rule","color":"#000000","strokeWidth":3.5,"strokeCap":"square"},"encoding":{"y":{"datum":0.36}}},
{"transform":[{"filter":"datum.t=='f'"}],"mark":{"type":"rule","color":"#000000","strokeWidth":3.5,"strokeCap":"square"},"encoding":{"y":{"datum":5.48}}},
{"transform":[{"filter":"datum.t=='f' && datum.l=='G'"}],"mark":{"type":"rule","color":"#000000","strokeWidth":3.5,"strokeCap":"square"},"encoding":{"x":{"datum":22.54}}},
{"transform":[{"filter":"datum.t=='f' && datum.l=='C'"}],"mark":{"type":"rule","color":"#000000","strokeWidth":3.5,"strokeCap":"square"},"encoding":{"x":{"datum":0.22}}}
]}},
{"width":199,"height":79,"data":{"name":"cap"},"layer":[
{"transform":[{"filter":"datum.ln==1"}],"mark":{"type":"text","align":"left","baseline":"middle","font":"Liberation Sans Narrow, Arial Narrow, DejaVu Sans Condensed, sans-serif","fontSize":18.7,"fontWeight":"bold","color":"#231f20"},"encoding":{"x":{"datum":0,"type":"quantitative","scale":{"domain":[0,1],"nice":false,"zero":false},"axis":null},"y":{"field":"ln","type":"quantitative","scale":{"domain":[0.51,3.49],"reverse":true,"nice":false,"zero":false},"axis":null},"text":{"value":"Fig. 6"}}},
{"transform":[{"filter":"datum.ln==1"}],"mark":{"type":"text","align":"left","baseline":"middle","font":"Liberation Sans Narrow, Arial Narrow, DejaVu Sans Condensed, sans-serif","fontSize":18.7,"color":"#231f20","dx":62,"limit":1190},"encoding":{"x":{"datum":0,"type":"quantitative"},"y":{"field":"ln","type":"quantitative"},"text":{"field":"s"}}},
{"transform":[{"filter":"datum.ln>1"}],"mark":{"type":"text","align":"left","baseline":"middle","font":"Liberation Sans Narrow, Arial Narrow, DejaVu Sans Condensed, sans-serif","fontSize":18.7,"color":"#231f20","limit":1250},"encoding":{"x":{"datum":0,"type":"quantitative"},"y":{"field":"ln","type":"quantitative"},"text":{"field":"s"}}}
]},
{"width":1052,"height":79,"data":{"values":[]},"mark":"point"}
]
}
